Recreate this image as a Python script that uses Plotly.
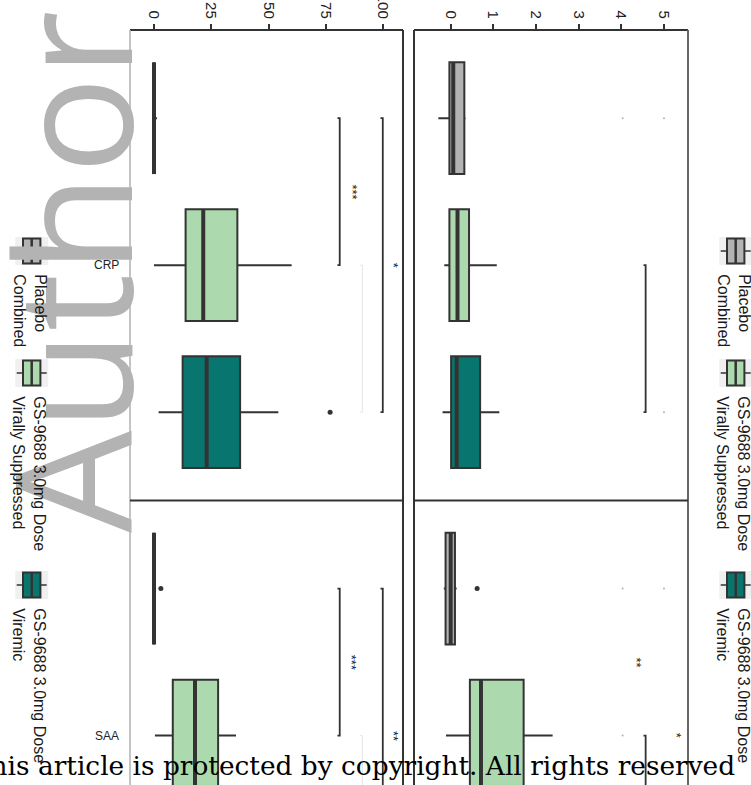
import plotly.graph_objects as go

W, H = 751, 785

# ---- data -------------------------------------------------------------
groups = ["Placebo<br>Combined",
          "GS-9688 3.0mg Dose<br>Virally Suppressed",
          "GS-9688 3.0mg Dose<br>Viremic"]
group_fill = ["#b3b3b3", "#acd9ad", "#08756f"]
markers = ["CRP", "SAA"]

pct_ticks = [0, 25, 50, 75, 100]
fold_ticks = [0, 1, 2, 3, 4, 5]

# box summaries, one entry per box
box_panel = ["pct", "pct", "pct", "pct", "pct",
             "fold", "fold", "fold", "fold", "fold"]
box_marker = ["CRP", "CRP", "CRP", "SAA", "SAA",
              "CRP", "CRP", "CRP", "SAA", "SAA"]
box_group = [0, 1, 2, 0, 1, 0, 1, 2, 0, 1]
box_lower = [0.0, 0.0, 2.0, 0.0, 0.4, -0.29, -0.15, -0.19, -0.16, -0.11]
box_q1 = [0.0, 13.8, 12.5, 0.0, 8.2, -0.03, -0.03, 0.01, -0.12, 0.45]
box_median = [0.0, 21.5, 23.0, 0.0, 17.9, 0.06, 0.16, 0.14, 0.0, 0.71]
box_q3 = [0.0, 36.4, 37.6, 0.0, 28.0, 0.32, 0.43, 0.69, 0.10, 1.71]
box_upper = [1.3, 60.1, 54.3, 0.0, 35.8, 0.35, 1.08, 1.14, 0.14, 2.39]

# outlying points
out_panel = ["pct", "pct", "fold", "fold", "fold", "fold", "fold", "fold", "fold"]
out_marker = ["CRP", "SAA", "SAA", "CRP", "CRP", "CRP", "SAA", "SAA", "SAA"]
out_group = [2, 0, 0, 0, 0, 2, 0, 0, 1]
out_value = [76.9, 3.0, 0.62, 4.03, 5.0, 5.0, 4.03, 5.0, 4.03]
out_faint = [False, False, False, True, True, True, True, True, True]

# comparison brackets
br_panel = ["pct", "pct", "pct", "pct", "pct", "pct", "fold", "fold"]
br_marker = ["CRP", "CRP", "CRP", "SAA", "SAA", "SAA", "CRP", "SAA"]
br_from = [0, 0, 1, 0, 0, 1, 1, 1]
br_to = [1, 2, 2, 1, 2, 2, 2, 2]
br_value = [81.1, 99.9, 91.0, 81.1, 99.9, 91.0, 4.57, 4.57]
br_faint = [False, False, True, False, False, True, False, False]

# significance labels (position given as group index, may be fractional)
sig_panel = ["pct", "pct", "pct", "pct", "fold", "fold"]
sig_marker = ["CRP", "CRP", "SAA", "SAA", "SAA", "SAA"]
sig_group = [0.5, 1.0, 0.5, 1.0, 0.5, 1.0]
sig_value = [86.6, 104.6, 86.6, 104.6, 4.36, 5.30]
sig_text = ["***", "*", "***", "**", "**", "*"]

# ---- layout helpers ---------------------------------------------------
ROW_STEP = 3.2          # distance between the two marker rows
BOX_W = 0.76
DARK = "#333333"
FONT = "Liberation Sans, Arial, sans-serif"

axes = {"pct": ("x", "y"), "fold": ("x2", "y2")}
tick_len = {"pct": 1.0, "fold": 0.05}


def pos(marker, g):
    return markers.index(marker) * ROW_STEP + (g - 1)


fig = go.Figure()

# boxes
for i in range(len(box_q1)):
    xa, ya = axes[box_panel[i]]
    fig.add_trace(go.Box(
        orientation="h",
        y=[pos(box_marker[i], box_group[i])],
        q1=[box_q1[i]], median=[box_median[i]], q3=[box_q3[i]],
        lowerfence=[box_lower[i]], upperfence=[box_upper[i]],
        fillcolor=group_fill[box_group[i]],
        line=dict(color=DARK, width=2),
        width=BOX_W, whiskerwidth=0,
        xaxis=xa, yaxis=ya, hoverinfo="skip", showlegend=False,
    ))

# heavier median strokes
for panel in axes:
    mx, my = [], []
    for i in range(len(box_median)):
        if box_panel[i] != panel:
            continue
        p = pos(box_marker[i], box_group[i])
        mx += [box_median[i], box_median[i], None]
        my += [p - BOX_W / 2, p + BOX_W / 2, None]
    xa, ya = axes[panel]
    fig.add_trace(go.Scatter(x=mx, y=my, mode="lines",
                             line=dict(color=DARK, width=4),
                             xaxis=xa, yaxis=ya, hoverinfo="skip",
                             showlegend=False))

# outliers
for i in range(len(out_value)):
    xa, ya = axes[out_panel[i]]
    faint = out_faint[i]
    fig.add_trace(go.Scatter(
        x=[out_value[i]], y=[pos(out_marker[i], out_group[i])],
        mode="markers",
        marker=dict(size=2 if faint else 5,
                    color="#b0b0b0" if faint else DARK),
        xaxis=xa, yaxis=ya, hoverinfo="skip", showlegend=False))

# brackets
for i in range(len(br_value)):
    xa, ya = axes[br_panel[i]]
    v = br_value[i]
    t = tick_len[br_panel[i]]
    p1 = pos(br_marker[i], br_from[i])
    p2 = pos(br_marker[i], br_to[i])
    fig.add_trace(go.Scatter(
        x=[v - t, v, v, v - t], y=[p1, p1, p2, p2], mode="lines",
        line=dict(color="#e6e6e6" if br_faint[i] else DARK,
                  width=1 if br_faint[i] else 1.8),
        xaxis=xa, yaxis=ya, hoverinfo="skip", showlegend=False))

annotations = []

# watermark (first, so later texts sit on top of it)
annotations.append(dict(
    text="Author", xref="paper", yref="paper",
    x=181 / W, y=1 - 535.5 / H, xanchor="right", yanchor="bottom",
    textangle=-90, showarrow=False,
    font=dict(family="Open Sans, sans-serif", size=162, color="#b3b3b3")))

# row labels beside the left facet
for m in markers:
    annotations.append(dict(
        text=m, xref="x domain", yref="y", x=0, y=pos(m, 1),
        xanchor="right", yanchor="middle", xshift=-9, showarrow=False,
        font=dict(family=FONT, size=12, color="#222222")))

for i in range(len(sig_text)):
    xa, ya = axes[sig_panel[i]]
    annotations.append(dict(
        text=sig_text[i], x=sig_value[i],
        y=pos(sig_marker[i], sig_group[i]),
        xref=xa, yref=ya, textangle=90, showarrow=False,
        font=dict(family=FONT, size=13, color="#222222")))

# ---- legend (drawn twice, left and right) -------------------------------
shapes = []


def px(x):
    return x / W


def py(y):
    return 1 - y / H


legend_y = [251, 373, 585]
for off in (0, 704):
    cx = 31.7 + off
    for g, c in enumerate(legend_y):
        shapes.append(dict(type="rect", xref="paper", yref="paper",
                           x0=px(cx - 16.5), x1=px(cx + 16.5),
                           y0=py(c - 14), y1=py(c + 14),
                           fillcolor="#f0f0f0", line=dict(width=0),
                           layer="above"))
        shapes.append(dict(type="line", xref="paper", yref="paper",
                           x0=px(cx - 15), x1=px(cx + 15),
                           y0=py(c), y1=py(c),
                           line=dict(color=DARK, width=1.5), layer="above"))
        shapes.append(dict(type="rect", xref="paper", yref="paper",
                           x0=px(cx - 8.7), x1=px(cx + 8.7),
                           y0=py(c - 12.5), y1=py(c + 12.5),
                           fillcolor=group_fill[g],
                           line=dict(color=DARK, width=2), layer="above"))
        shapes.append(dict(type="line", xref="paper", yref="paper",
                           x0=px(cx), x1=px(cx),
                           y0=py(c - 12.5), y1=py(c + 12.5),
                           line=dict(color=DARK, width=2.5), layer="above"))
        annotations.append(dict(
            text=groups[g], xref="paper", yref="paper",
            x=px(cx - 2.5), y=py(c + 21), xanchor="center", yanchor="top",
            textangle=90, align="left", showarrow=False,
            font=dict(family=FONT, size=16, color="#1a1a1a")))

# ---- panel frames -------------------------------------------------------
frame = [("x", "y", "#333333", "#333333", "#b0b0b0"),
         ("x2", "y2", "#333333", "#666666", "#333333")]
for xa, ya, top_c, right_c, left_c in frame:
    xd, yd = xa + " domain", ya + " domain"
    shapes.append(dict(type="line", xref=xd, yref=yd, x0=0, x1=1, y0=1, y1=1,
                       line=dict(color=top_c, width=2)))
    shapes.append(dict(type="line", xref=xd, yref=yd, x0=1, x1=1, y0=0, y1=1,
                       line=dict(color=right_c, width=2)))
    shapes.append(dict(type="line", xref=xd, yref=yd, x0=0, x1=0, y0=0, y1=1,
                       line=dict(color=left_c, width=1.5 if xa == "x" else 2)))
    shapes.append(dict(type="line", xref=xd, yref=ya, x0=0, x1=1,
                       y0=ROW_STEP / 2, y1=ROW_STEP / 2,
                       line=dict(color="#333333", width=2)))

# copyright notice
annotations.append(dict(
    text="This article is protected by copyright. All rights reserved",
    xref="paper", yref="paper", x=737 / W, y=1 - 765 / H,
    xanchor="right", yanchor="middle", showarrow=False,
    font=dict(family="DejaVu Serif, serif", size=26.4, color="#000000")))

top_px = 30
y_top = -1.6
y_bottom = y_top + (H - top_px) / 147.0

axis_common = dict(side="top", ticks="outside", ticklen=5, tickwidth=1.5,
                   tickcolor=DARK, tickangle=90, showgrid=False,
                   zeroline=False, showline=False,
                   tickfont=dict(family=FONT, size=15, color="#222222"))

fig.update_layout(
    width=W, height=H, template="none",
    margin=dict(l=0, r=0, t=0, b=0),
    paper_bgcolor="white", plot_bgcolor="white",
    showlegend=False, boxmode="overlay",
    xaxis=dict(domain=[130 / W, 403 / W], range=[-10.48, 108.73],
               tickvals=pct_ticks, anchor="y", **axis_common),
    xaxis2=dict(domain=[414 / W, 688 / W], range=[-0.860, 5.563],
                tickvals=fold_ticks, anchor="y2", **axis_common),
    yaxis=dict(domain=[0, 1 - top_px / H], range=[y_bottom, y_top],
               showticklabels=False, ticks="", showgrid=False,
               zeroline=False, showline=False, anchor="x"),
    yaxis2=dict(domain=[0, 1 - top_px / H], range=[y_bottom, y_top],
                showticklabels=False, ticks="", showgrid=False,
                zeroline=False, showline=False, anchor="x2"),
    shapes=shapes, annotations=annotations,
)

fig.write_html("out.html")
